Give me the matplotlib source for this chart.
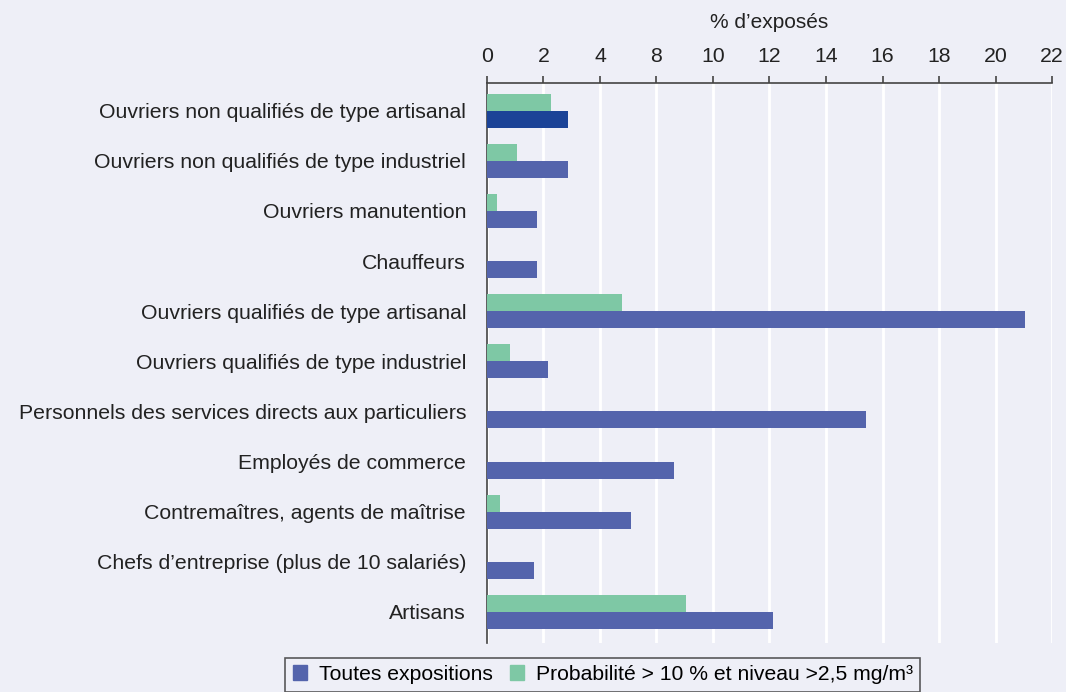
import numpy as np
import matplotlib
matplotlib.use("Agg")
import matplotlib.pyplot as plt
from matplotlib.patches import Patch

plt.rcParams['font.family'] = ['Liberation Sans', 'DejaVu Sans']

categories = [
    "Ouvriers non qualifiés de type artisanal",
    "Ouvriers non qualifiés de type industriel",
    "Ouvriers manutention",
    "Chauffeurs",
    "Ouvriers qualifiés de type artisanal",
    "Ouvriers qualifiés de type industriel",
    "Personnels des services directs aux particuliers",
    "Employés de commerce",
    "Contremaîtres, agents de maîtrise",
    "Chefs d’entreprise (plus de 10 salariés)",
    "Artisans",
]
# values in axis units (ticks every 2 units, labelled as on the original)
toutes = [2.87, 2.87, 1.77, 1.77, 19.04, 2.16, 13.42, 6.62, 5.10, 1.66, 10.12]
proba = [2.27, 1.06, 0.35, 0, 4.78, 0.81, 0, 0, 0.46, 0, 7.04]
tick_vals = [0, 2, 4, 6, 8, 10, 12, 14, 16, 18, 20]
tick_labels = ["0", "2", "4", "8", "10", "12", "14", "16", "18", "20", "22"]

bg = "#eeeff7"
c_blue = "#5464ac"
c_blue_dark = "#1b4397"
c_green = "#7ec8a5"
txt = "#222222"

fig = plt.figure(figsize=(10.66, 6.92), dpi=100, facecolor=bg)
ax = fig.add_axes([0.4568, 0.0708, 0.5301, 0.8092], facecolor=bg)

y = np.arange(len(categories))
h = 0.34
blue_colors = [c_blue_dark] + [c_blue] * (len(categories) - 1)
ax.barh(y + h / 2, toutes, height=h, color=blue_colors, zorder=3)
ax.barh(y - h / 2, proba, height=h, color=c_green, zorder=3)

ax.set_ylim(10.62, -0.55)
ax.set_xlim(0, 20)
ax.set_yticks(y)
ax.set_yticklabels(categories, fontsize=15.3, color=txt)
ax.tick_params(axis="y", length=0, pad=15)

ax.xaxis.tick_top()
ax.xaxis.set_label_position("top")
ax.set_xticks(tick_vals)
ax.set_xticklabels(tick_labels, fontsize=15.3, color=txt)
ax.tick_params(axis="x", length=5, width=1.2, color="#444444", pad=7)
ax.set_xlabel("% d’exposés", fontsize=15, color=txt, labelpad=14)

ax.grid(axis="x", color="white", linewidth=2, zorder=0)
for s in ["right", "bottom"]:
    ax.spines[s].set_visible(False)
for s in ["top", "left"]:
    ax.spines[s].set_color("#444444")
    ax.spines[s].set_linewidth(1.2)

handles = [Patch(color=c_blue, label="Toutes expositions"),
           Patch(color=c_green, label="Probabilité > 10 % et niveau >2,5 mg/m³")]
leg = fig.legend(handles=handles, loc="upper center", bbox_to_anchor=(0.5655, 0.0495),
                 ncol=2, frameon=True, fancybox=False, edgecolor="#333333",
                 facecolor=bg, fontsize=15.2, handlelength=0.7, handleheight=0.7,
                 handletextpad=0.55, columnspacing=0.8, borderpad=0.35,
                 borderaxespad=0)
leg.get_frame().set_linewidth(1.2)

fig.savefig("out.png", dpi=100, facecolor=bg)
